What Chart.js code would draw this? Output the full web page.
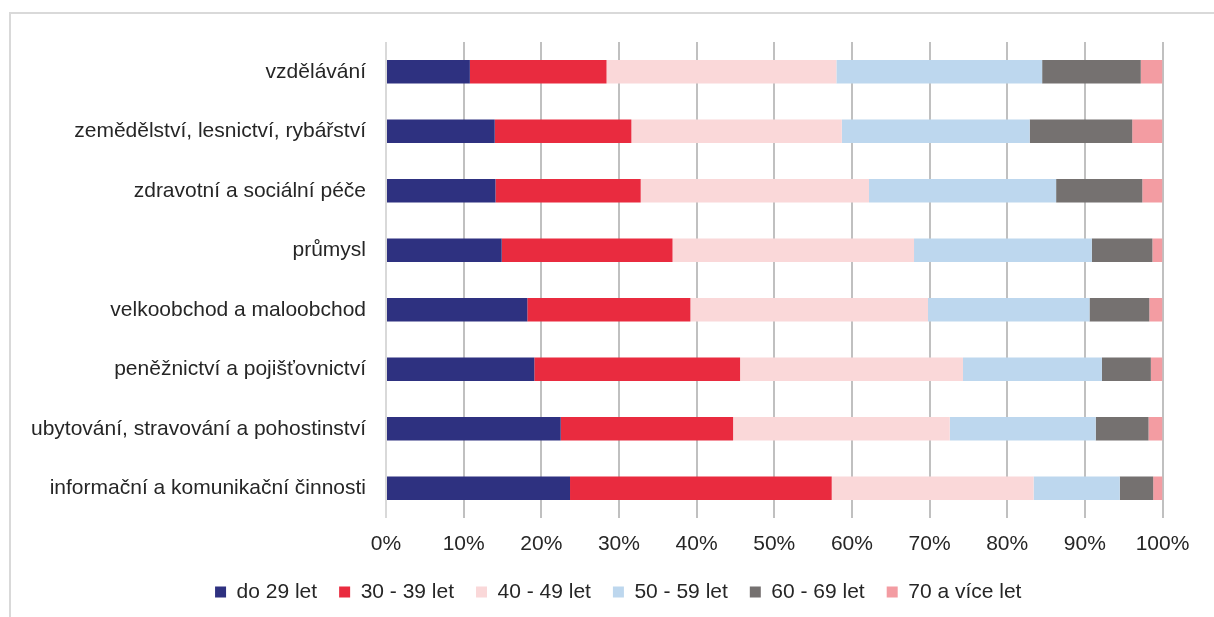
<!DOCTYPE html>
<html>
<head>
<meta charset="utf-8">
<script src="https://cdn.jsdelivr.net/npm/chart.js@4"></script>
<style>
  body { margin: 0; overflow: hidden; background: #fff; }
  #frame { position: absolute; left: 9px; top: 12px; width: 1300px; height: 700px; border: 2px solid #d9d9d9; }
  #chart_ages { position: absolute; left: 0; top: 0; }
</style>
</head>
<body>
<div id="frame"></div>
<canvas id="chart_ages" width="1214" height="640"></canvas>
<script>
var categories = [
    'vzdělávání',
    'zemědělství, lesnictví, rybářství',
    'zdravotní a sociální péče',
    'průmysl',
    'velkoobchod a maloobchod',
    'peněžnictví a pojišťovnictví',
    'ubytování, stravování a pohostinství',
    'informační a komunikační činnosti'
];
var seriesNames = ['do 29 let', '30 - 39 let', '40 - 49 let', '50 - 59 let', '60 - 69 let', '70 a více let'];
var seriesColors = ['#2e3180', '#e92b3f', '#fad8d9', '#bdd7ee', '#757170', '#f39ca2'];

// shares in %, one array per age group, same order as categories
var do29   = [10.8, 14.0, 14.1, 14.9, 18.2, 19.1, 22.5, 23.7];
var od30   = [17.6, 17.6, 18.7, 22.0, 21.0, 26.5, 22.2, 33.7];
var od40   = [29.6, 27.1, 29.4, 31.1, 30.6, 28.7, 27.9, 26.0];
var od50   = [26.5, 24.2, 24.1, 22.9, 20.8, 17.9, 18.8, 11.1];
var od60   = [12.7, 13.2, 11.1,  7.8,  7.7,  6.3,  6.8,  4.3];
var od70   = [ 2.8,  3.9,  2.6,  1.3,  1.7,  1.5,  1.8,  1.2];
var seriesValues = [do29, od30, od40, od50, od60, od70];

var xTicks = [0, 10, 20, 30, 40, 50, 60, 70, 80, 90, 100];

var textColor = '#262626';
var fontFamily = '"Liberation Sans", Arial, sans-serif';

var datasets = seriesNames.map(function (name, i) {
    return {
        label: name,
        data: seriesValues[i],
        backgroundColor: seriesColors[i],
        borderWidth: 0,
        barPercentage: 0.395,
        categoryPercentage: 1
    };
});

var chart_ages = new Chart(document.getElementById('chart_ages'), {
    type: 'bar',
    data: {
        labels: categories,
        datasets: datasets
    },
    options: {
        indexAxis: 'y',
        animation: false,
        responsive: false,
        layout: {
            padding: { left: 20, right: 51.5, top: 42, bottom: 27.5 }
        },
        plugins: {
            tooltip: { enabled: false },
            legend: {
                position: 'bottom',
                labels: {
                    boxWidth: 11,
                    boxHeight: 11,
                    padding: 22,
                    color: textColor,
                    font: { family: fontFamily, size: 21 }
                }
            }
        },
        scales: {
            x: {
                stacked: true,
                min: 0,
                max: 100,
                afterBuildTicks: function (scale) {
                    scale.ticks = xTicks.map(function (v) { return { value: v }; });
                },
                afterFit: function (scale) {
                    scale.height = 41.5;
                },
                border: { display: false },
                grid: {
                    drawTicks: false,
                    lineWidth: 2,
                    color: function (ctx) { return ctx.index === 0 ? '#d9d9d9' : '#c0c0c0'; }
                },
                ticks: {
                    padding: 14,
                    color: textColor,
                    font: { family: fontFamily, size: 21 },
                    callback: function (v) { return v + '%'; }
                }
            },
            y: {
                stacked: true,
                border: { display: false },
                grid: { display: false, drawTicks: false },
                ticks: {
                    padding: 20,
                    color: textColor,
                    font: { family: fontFamily, size: 21 }
                },
                afterFit: function (scale) {
                    scale.width = 386 - 20;
                }
            }
        }
    },
    plugins: [{
        // legend in the original sits right of the canvas centre
        id: 'legendShift',
        afterLayout: function (chart) {
            chart.legend.left += 27;
            chart.legend.right += 27;
        }
    }]
});
</script>
</body>
</html>
